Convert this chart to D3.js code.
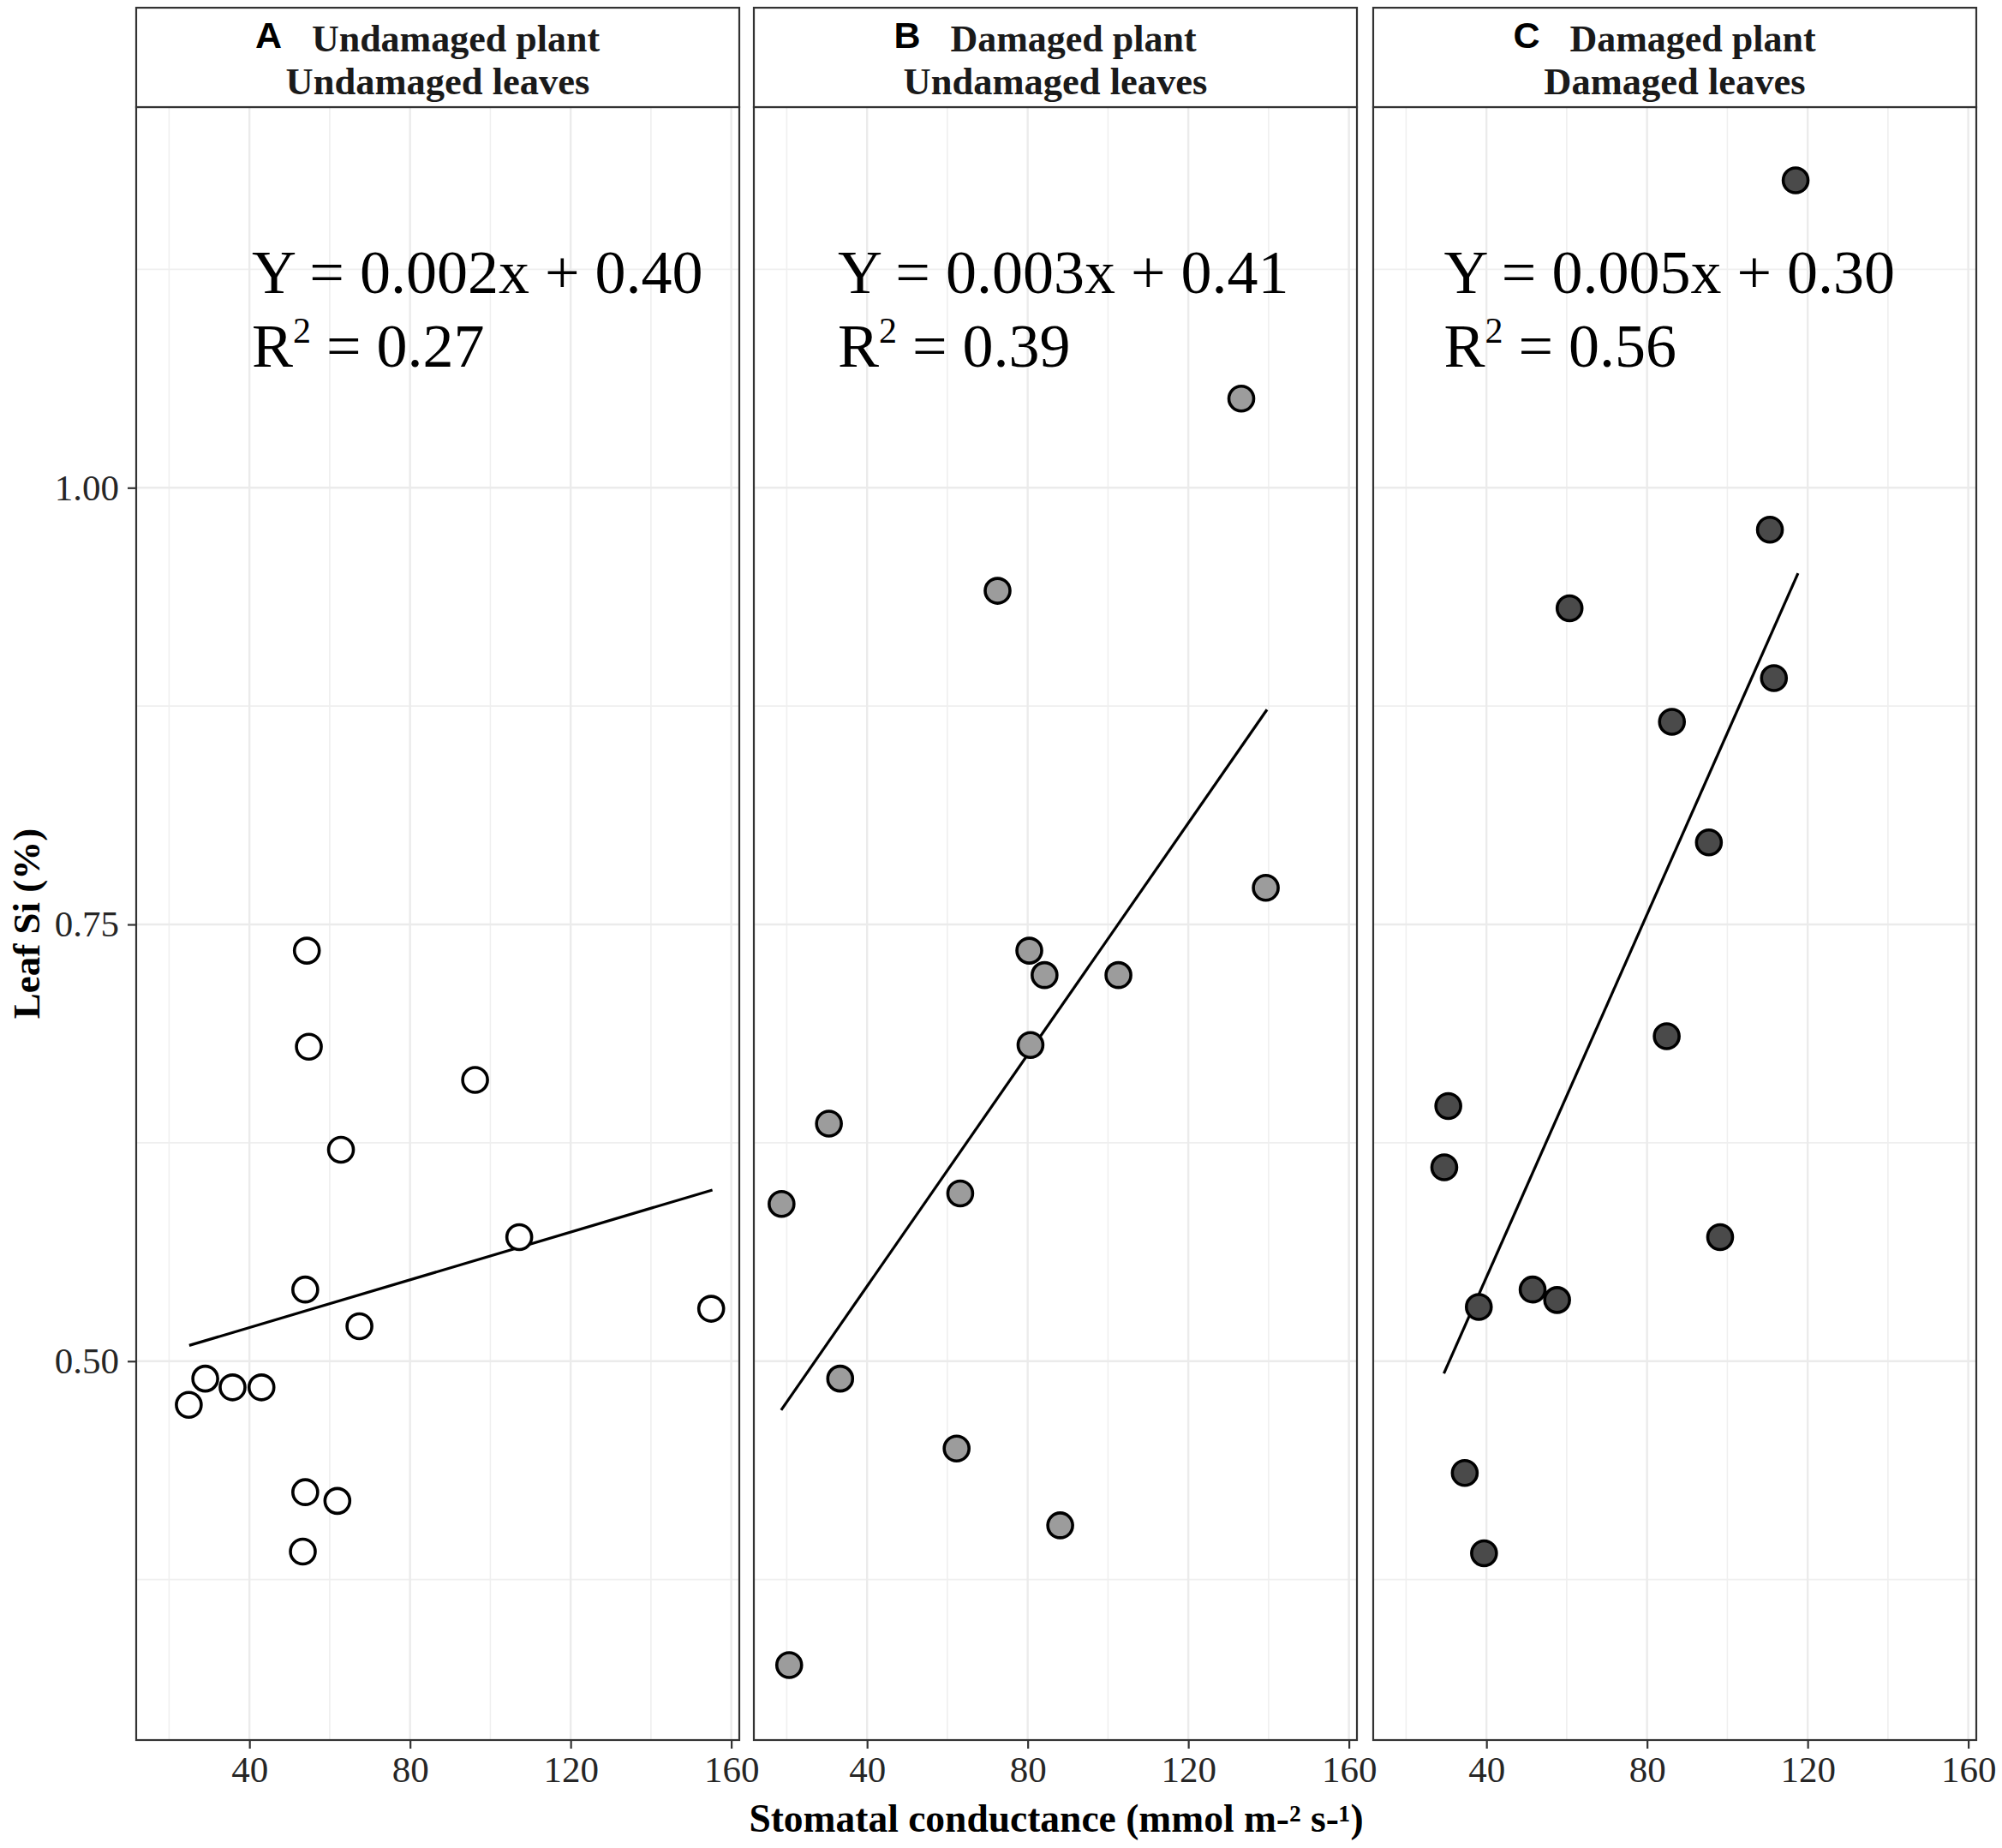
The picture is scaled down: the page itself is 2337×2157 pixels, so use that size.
<!DOCTYPE html>
<html><head><meta charset="utf-8">
<script src="https://cdn.jsdelivr.net/npm/d3@7"></script>
<style>
html,body{margin:0;padding:0;background:#fff;}
svg{display:block;}
</style></head>
<body>
<script>
// ---- Data ----
const panelIds = ["A", "B", "C"];
const stripLine1 = ["Undamaged plant", "Damaged plant", "Damaged plant"];
const stripLine2 = ["Undamaged leaves", "Undamaged leaves", "Damaged leaves"];
const pointFills = ["#ffffff", "#9c9c9c", "#4a4a4a"];

const xA = [24.9, 29.0, 35.8, 43.0, 54.3, 54.8, 62.8, 96.2, 107.2, 53.9, 67.4, 155.0, 53.9, 61.9, 53.3];
const yA = [0.475, 0.490, 0.485, 0.485, 0.735, 0.680, 0.621, 0.661, 0.571, 0.541, 0.520, 0.530, 0.425, 0.420, 0.391];

const xB = [18.7, 20.6, 30.5, 33.3, 62.3, 63.2, 72.5, 80.4, 84.2, 80.7, 88.1, 102.6, 133.2, 139.3];
const yB = [0.590, 0.326, 0.636, 0.490, 0.450, 0.596, 0.941, 0.735, 0.721, 0.681, 0.406, 0.721, 1.051, 0.771];

const xC = [30.5, 29.5, 38.1, 34.6, 39.4, 51.5, 57.6, 60.7, 84.9, 86.2, 95.4, 98.2, 110.6, 111.6, 117.0];
const yC = [0.646, 0.611, 0.531, 0.436, 0.390, 0.541, 0.535, 0.931, 0.686, 0.866, 0.797, 0.571, 0.976, 0.891, 1.176];

// fitted lines: [x start, y start, x end, y end]
const fitA = [25.0, 0.509, 155.3, 0.598];
const fitB = [18.6, 0.472, 139.6, 0.873];
const fitC = [29.4, 0.493, 117.6, 0.951];

const equations = ["Y = 0.002x + 0.40", "Y = 0.003x + 0.41", "Y = 0.005x + 0.30"];
const r2Values = ["0.27", "0.39", "0.56"];

const xTicks = [40, 80, 120, 160];
const xMinor = [20, 60, 100, 140];
const yTicks = [0.50, 0.75, 1.00];
const yMinor = [0.375, 0.625, 0.875, 1.125];

const xDomain = [11.8, 162.0];
const yDomain = [0.2831, 1.2179];

const xTitle = "Stomatal conductance (mmol m-² s-¹)";
const yTitle = "Leaf Si (%)";

// annotation anchor (data units) per panel
const eqX = [40.6, 32.7, 29.4];
const eqY1 = 1.1115, eqY2 = 1.0693;

// ---- Layout ----
const W = 2337, H = 2157;
const panelLefts = [159, 880, 1603];
const panelW = 704;
const stripTop = 9, panelTop = 125, panelBottom = 2031;
const serif = "'Liberation Serif','Times New Roman',serif";
const sans = "'Liberation Sans',Arial,sans-serif";

const svg = d3.select("body").append("svg").attr("width", W).attr("height", H);
svg.append("rect").attr("width", W).attr("height", H).attr("fill", "#fff");

const y = d3.scaleLinear().domain(yDomain).range([panelBottom, panelTop]);

const xs = [xA, xB, xC], ys = [yA, yB, yC], fits = [fitA, fitB, fitC];

panelIds.forEach((id, i) => {
  const left = panelLefts[i];
  const x = d3.scaleLinear().domain(xDomain).range([left, left + panelW]);
  const g = svg.append("g");

  // grid
  g.selectAll(".gxm").data(xMinor).join("line")
    .attr("x1", d => x(d)).attr("x2", d => x(d)).attr("y1", panelTop).attr("y2", panelBottom)
    .attr("stroke", "#efefef").attr("stroke-width", 1.6);
  g.selectAll(".gym").data(yMinor).join("line")
    .attr("x1", left).attr("x2", left + panelW).attr("y1", d => y(d)).attr("y2", d => y(d))
    .attr("stroke", "#efefef").attr("stroke-width", 1.6);
  g.selectAll(".gx").data(xTicks).join("line")
    .attr("x1", d => x(d)).attr("x2", d => x(d)).attr("y1", panelTop).attr("y2", panelBottom)
    .attr("stroke", "#ebebeb").attr("stroke-width", 2.4);
  g.selectAll(".gy").data(yTicks).join("line")
    .attr("x1", left).attr("x2", left + panelW).attr("y1", d => y(d)).attr("y2", d => y(d))
    .attr("stroke", "#ebebeb").attr("stroke-width", 2.4);

  // equation text
  g.append("text").attr("x", x(eqX[i])).attr("y", y(eqY1))
    .attr("font-family", serif).attr("font-size", 72).attr("fill", "#000")
    .text(equations[i]);
  const r2 = g.append("text").attr("x", x(eqX[i])).attr("y", y(eqY2))
    .attr("font-family", serif).attr("font-size", 72).attr("fill", "#000");
  r2.append("tspan").text("R");
  r2.append("tspan").attr("font-size", 42).attr("dy", -28).text("2");
  r2.append("tspan").attr("dy", 28).text(" = " + r2Values[i]);

  // fit line
  const f = fits[i];
  g.append("line")
    .attr("x1", x(f[0])).attr("y1", y(f[1])).attr("x2", x(f[2])).attr("y2", y(f[3]))
    .attr("stroke", "#000").attr("stroke-width", 3.2);

  // points
  const pts = xs[i].map((v, k) => [v, ys[i][k]]);
  g.selectAll("circle.pt").data(pts).join("circle")
    .attr("cx", d => x(d[0])).attr("cy", d => y(d[1])).attr("r", 14.5)
    .attr("fill", pointFills[i]).attr("stroke", "#000").attr("stroke-width", 3.6);

  // panel border
  g.append("rect").attr("x", left).attr("y", panelTop).attr("width", panelW).attr("height", panelBottom - panelTop)
    .attr("fill", "none").attr("stroke", "#333").attr("stroke-width", 2.2);

  // strip
  g.append("rect").attr("x", left).attr("y", stripTop).attr("width", panelW).attr("height", panelTop - stripTop)
    .attr("fill", "#fff").attr("stroke", "#333").attr("stroke-width", 2.2);
  const cx = left + panelW / 2;
  const l1 = g.append("text").attr("x", cx + 21).attr("y", 60).attr("text-anchor", "middle")
    .attr("font-family", serif).attr("font-weight", "bold").attr("font-size", 44).attr("fill", "#1a1a1a")
    .text(stripLine1[i]);
  const bb = l1.node().getBBox();
  g.append("text").attr("x", bb.x - 66).attr("y", 56)
    .attr("font-family", sans).attr("font-weight", "bold").attr("font-size", 43).attr("fill", "#000")
    .text(id);
  g.append("text").attr("x", cx).attr("y", 110).attr("text-anchor", "middle")
    .attr("font-family", serif).attr("font-weight", "bold").attr("font-size", 44.5).attr("fill", "#1a1a1a")
    .text(stripLine2[i]);

  // x axis
  const ax = g.append("g").attr("transform", `translate(0,${panelBottom})`)
    .call(d3.axisBottom(x).tickValues(xTicks).tickFormat(d3.format("d")).tickSize(10).tickPadding(8));
  ax.select(".domain").remove();
  ax.selectAll("line").attr("stroke", "#333").attr("stroke-width", 2.2);
  ax.selectAll("text").attr("font-family", serif).attr("font-size", 43).attr("fill", "#262626");

  // y axis on first panel
  if (i === 0) {
    const ay = g.append("g").attr("transform", `translate(${left},0)`)
      .call(d3.axisLeft(y).tickValues(yTicks).tickFormat(d3.format(".2f")).tickSize(10).tickPadding(10));
    ay.select(".domain").remove();
    ay.selectAll("line").attr("stroke", "#333").attr("stroke-width", 2.2);
    ay.selectAll("text").attr("font-family", serif).attr("font-size", 43).attr("fill", "#262626");
  }
});

// axis titles
svg.append("text").attr("x", (panelLefts[0] + panelLefts[2] + panelW) / 2).attr("y", 2138)
  .attr("text-anchor", "middle").attr("font-family", serif).attr("font-weight", "bold")
  .attr("font-size", 45.5).attr("fill", "#000").text(xTitle);
svg.append("text").attr("transform", `translate(46,${(panelTop + panelBottom) / 2}) rotate(-90)`)
  .attr("text-anchor", "middle").attr("font-family", serif).attr("font-weight", "bold")
  .attr("font-size", 45).attr("fill", "#000").text(yTitle);
</script>
</body></html>
